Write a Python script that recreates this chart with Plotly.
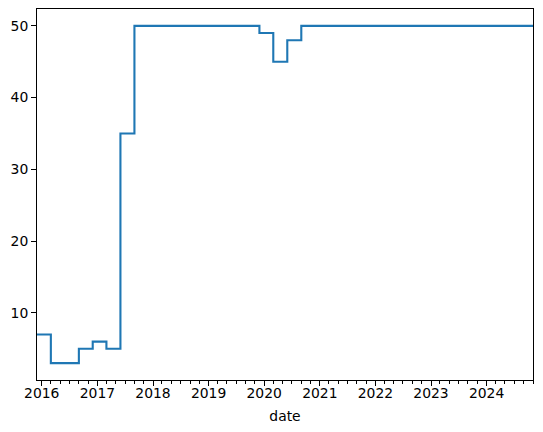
import plotly.graph_objects as go

# Step change points (value holds from each date until the next)
dates = ["2015-12-01", "2016-03-01", "2016-09-01", "2016-12-01", "2017-03-01",
         "2017-06-01", "2017-09-01", "2019-12-01", "2020-03-01", "2020-06-01",
         "2020-09-01", "2024-11-01"]
values = [7, 3, 5, 6, 5, 35, 50, 49, 45, 48, 50, 50]

x_range = ["2015-12-01", "2024-11-01"]
y_ticks = [10, 20, 30, 40, 50]
x_tick_vals = ["2016-01-01", "2017-01-01", "2018-01-01", "2019-01-01", "2020-01-01",
               "2021-01-01", "2022-01-01", "2023-01-01", "2024-01-01"]
x_tick_text = ["2016", "2017", "2018", "2019", "2020", "2021", "2022", "2023", "2024"]

fig = go.Figure()
fig.add_trace(go.Scatter(x=dates, y=values, mode="lines", line_shape="hv",
                         line=dict(color="#1f77b4", width=2.1), showlegend=False))

font = dict(family="DejaVu Sans", size=13.9, color="black")
fig.update_layout(
    width=543, height=432,
    margin=dict(l=37, r=10, t=9, b=52),
    paper_bgcolor="white", plot_bgcolor="white",
    font=font,
)
fig.update_xaxes(
    type="date", range=x_range, automargin=False,
    tickmode="array", tickvals=x_tick_vals, ticktext=x_tick_text,
    ticks="outside", ticklen=4.9, tickwidth=1.1, tickcolor="black",
    minor=dict(dtick="M2", tick0="2016-01-01", ticks="outside", ticklen=2.8,
               tickwidth=0.9, tickcolor="black", showgrid=False),
    showline=True, linecolor="black", linewidth=1.1, mirror=True,
    showgrid=False, zeroline=False,
    ticklabelstandoff=-5,
    title=dict(text="date", font=font, standoff=11),
    tickfont=font,
)
fig.update_yaxes(
    range=[0.65, 52.35], tickvals=y_ticks, automargin=False,
    ticks="outside", ticklen=4.9, tickwidth=1.1, tickcolor="black",
    showline=True, linecolor="black", linewidth=1.1, mirror=True,
    showgrid=False, zeroline=False, tickfont=font,
)
fig.write_html("out.html", config={"displayModeBar": False},
               post_script="document.body.style.margin='0px';")
